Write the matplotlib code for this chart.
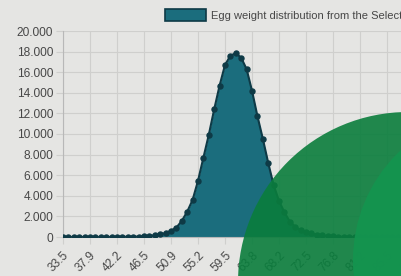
import numpy as np
import matplotlib.pyplot as plt
from matplotlib.patches import Patch, Ellipse

# egg weight distribution (counts), one value per weight class
counts = [0, 0, 0, 0, 0, 0, 0, 0, 0, 0, 5, 10, 20, 30,
          40, 70, 110, 170, 265, 390, 600, 920, 1560, 2460,
          3600, 5450, 7700, 9920, 12400, 14700, 16700, 17600, 17850, 17400,
          16300, 14200, 11750, 9550, 7200, 5050, 3500, 2400, 1500, 1000,
          650, 470, 340, 230, 160, 100, 60, 40, 20, 10,
          0, 0, 0, 0, 0, 0, 0, 0, 0, 0, 0, 0, 0, 0, 0, 0]
# only every 5th weight class is labelled on the axis
tick_labels = ["33.5", "37.9", "42.2", "46.5", "50.9", "55.2", "59.5",
               "63.8", "68.2", "72.5", "76.8", "81.2", "85.5", "89.8"]
legend_label = "Egg weight distribution from the Selected flock"

bg = "#e5e5e3"
fill_c = "#1b6d7d"
line_c = "#0e3a46"
grid_c = "#cfcfcd"
text_c = "#474747"

plt.rcParams["font.family"] = ["Liberation Sans", "DejaVu Sans"]

W, H = 401, 276
fig = plt.figure(figsize=(W / 100, H / 100), dpi=100, facecolor=bg)
step = 5.4
n = len(counts)
ax = fig.add_axes([63 / W, 1 - 237 / H, (n - 1) * step / W, 206 / H])
ax.set_facecolor(bg)

x = np.arange(n)
ax.fill_between(x, counts, color=fill_c, lw=0, zorder=2)
ax.plot(x, counts, color=line_c, lw=1.5, marker="o", ms=3.6, zorder=3)

ax.set_xlim(0, n - 1)
ax.set_ylim(0, 20000)
yt = np.arange(0, 20001, 2000)
ax.set_yticks(yt)
ax.set_yticklabels([f"{v:,}".replace(",", ".") for v in yt])
ax.set_xticks(np.arange(0, 5 * len(tick_labels), 5))
ax.set_xticklabels(tick_labels, rotation=45, ha="right", rotation_mode="anchor")
ax.grid(True, color=grid_c, lw=0.8, zorder=0)
ax.tick_params(axis="both", colors=grid_c, labelcolor=text_c, labelsize=8.6,
               length=5, width=0.8)
ax.tick_params(axis="y", pad=2)
ax.tick_params(axis="x", pad=4)
for s in ["top", "right"]:
    ax.spines[s].set_visible(False)
for s in ["left", "bottom"]:
    ax.spines[s].set_color("#b8b8b8")
    ax.spines[s].set_linewidth(0.8)

leg = fig.legend(handles=[Patch(facecolor=fill_c, edgecolor=line_c, lw=1.2, label=legend_label)],
                 loc="upper left", bbox_to_anchor=(165 / W, 1 - 9 / H), frameon=False,
                 fontsize=8.0, handlelength=3.65, handleheight=1.3, handletextpad=0.45,
                 borderpad=0, borderaxespad=0)
for t in leg.get_texts():
    t.set_color(text_c)

# green overlay shapes in the photo
fig.add_artist(Ellipse((408 / W, -6 / H), 340 / W, 340 / H, transform=fig.transFigure,
                       facecolor="#0a7d3c", alpha=0.9, lw=0, zorder=10))
fig.add_artist(Ellipse((503 / W, 16 / H), 300 / W, 300 / H, transform=fig.transFigure,
                       facecolor="#14944f", alpha=0.95, lw=0, zorder=11))

fig.savefig("out.png", dpi=100, facecolor=bg)
